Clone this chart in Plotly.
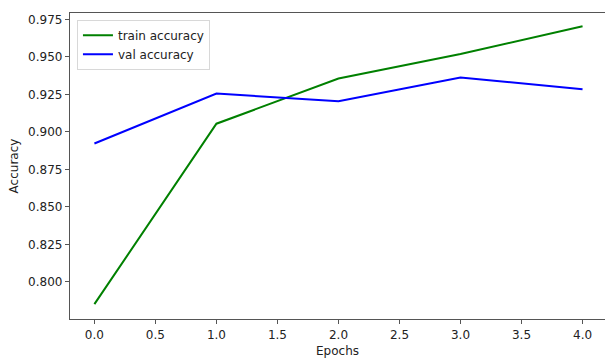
import plotly.graph_objects as go

epochs = [0, 1, 2, 3, 4]
train_acc = [0.7852, 0.9055, 0.9356, 0.9520, 0.9705]
val_acc = [0.8923, 0.9256, 0.9205, 0.9363, 0.9285]
x_ticks = [0.0, 0.5, 1.0, 1.5, 2.0, 2.5, 3.0, 3.5, 4.0]
y_ticks = [0.800, 0.825, 0.850, 0.875, 0.900, 0.925, 0.950, 0.975]

FONT = "DejaVu Sans"

fig = go.Figure()
fig.add_trace(go.Scatter(x=epochs, y=train_acc, mode="lines", name="train accuracy",
                         line=dict(color="#008000", width=2)))
fig.add_trace(go.Scatter(x=epochs, y=val_acc, mode="lines", name="val accuracy",
                         line=dict(color="#0000ff", width=2)))

fig.update_layout(
    width=605, height=358,
    margin=dict(l=70, r=0, t=13, b=39, pad=0),
    paper_bgcolor="white", plot_bgcolor="white",
    font=dict(family=FONT, size=12, color="#222"),
    showlegend=True,
    legend=dict(x=0.013, y=0.978, xanchor="left", yanchor="top",
                bgcolor="rgba(255,255,255,0.9)", bordercolor="#d8d8d8", borderwidth=1,
                font=dict(family=FONT, size=12, color="#222"), tracegroupgap=2),
)
fig.update_xaxes(
    range=[-0.2, 4.184], tickmode="array", tickvals=x_ticks,
    ticktext=[f"{v:.1f}" for v in x_ticks],
    showgrid=False, zeroline=False,
    showline=True, linecolor="#555", linewidth=1.3, mirror=True,
    ticks="outside", ticklen=4, tickwidth=1, tickcolor="#555",
    title=dict(text="Epochs", standoff=10, font=dict(family=FONT, size=12, color="#222")),
    automargin=False,
)
fig.update_yaxes(
    range=[0.7753, 0.9793], tickmode="array", tickvals=y_ticks,
    ticktext=[f"{v:.3f}" for v in y_ticks],
    showgrid=False, zeroline=False,
    showline=True, linecolor="#555", linewidth=1.3, mirror=False,
    ticks="outside", ticklen=4, tickwidth=1, tickcolor="#555",
    title=dict(text="Accuracy", standoff=6, font=dict(family=FONT, size=12, color="#222")),
    automargin=False,
)

fig.write_html(
    "out.html",
    config={"displayModeBar": False},
    post_script="document.body.style.margin='0';document.body.style.overflow='hidden';",
)
